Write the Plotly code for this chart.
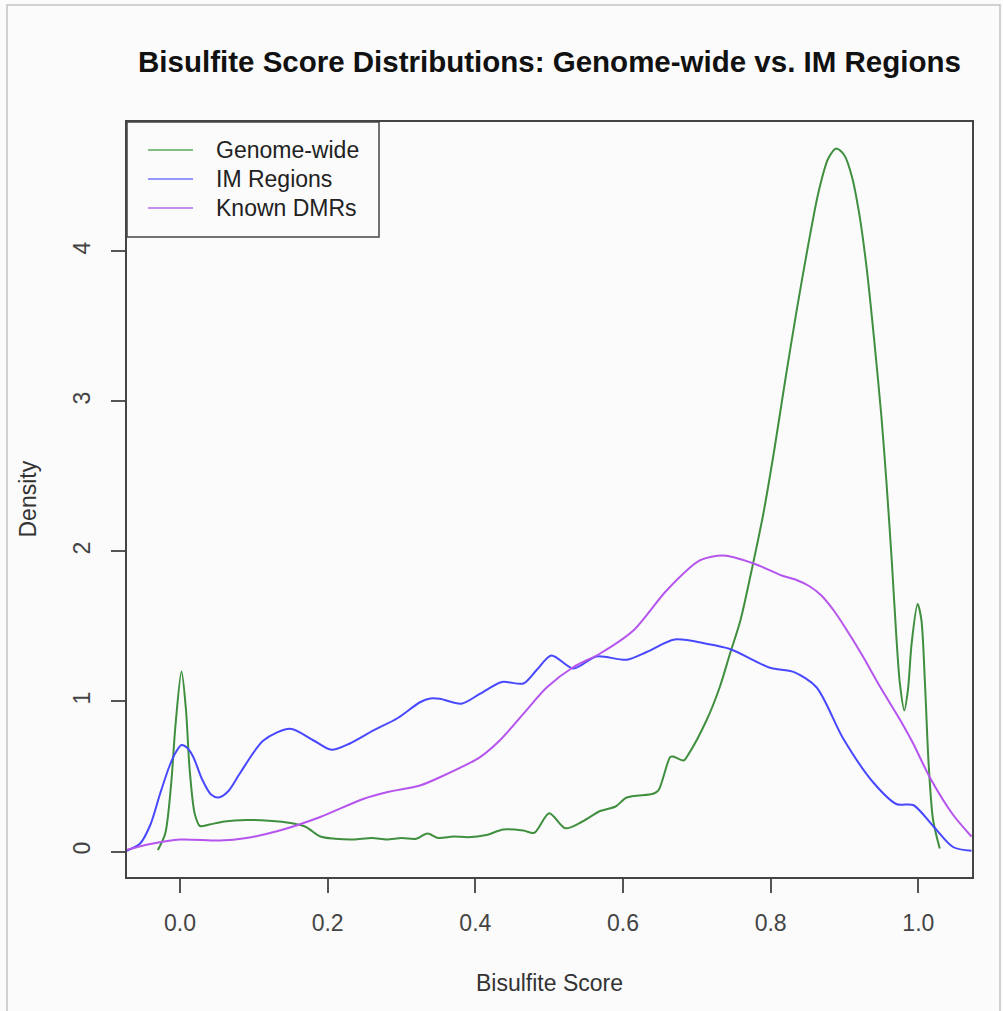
import plotly.graph_objects as go

# Density estimates of the bisulfite score, read as (score, density) pairs
genome_x = [-0.030, -0.020, -0.012, -0.006, 0.002, 0.008, 0.013, 0.020, 0.027, 0.040,
            0.060, 0.090, 0.120, 0.150, 0.170, 0.190, 0.210, 0.235, 0.260, 0.280,
            0.300, 0.320, 0.335, 0.350, 0.370, 0.390, 0.415, 0.438, 0.465, 0.480,
            0.500, 0.522, 0.545, 0.569, 0.590, 0.605, 0.641, 0.648, 0.664, 0.668,
            0.682, 0.689, 0.713, 0.731, 0.745, 0.759, 0.774, 0.790, 0.805, 0.820,
            0.835, 0.850, 0.865, 0.878, 0.889, 0.900, 0.910, 0.920, 0.930, 0.940,
            0.950, 0.957, 0.964, 0.970, 0.975, 0.981, 0.986, 0.991, 0.999, 1.004,
            1.009, 1.014, 1.020, 1.029]
genome_y = [0.01, 0.12, 0.45, 0.85, 1.20, 0.95, 0.55, 0.25, 0.17, 0.18,
            0.20, 0.21, 0.205, 0.19, 0.165, 0.10, 0.085, 0.08, 0.09, 0.08,
            0.09, 0.085, 0.12, 0.09, 0.10, 0.095, 0.11, 0.147, 0.14, 0.125,
            0.255, 0.155, 0.20, 0.27, 0.30, 0.36, 0.385, 0.407, 0.63, 0.633,
            0.607, 0.651, 0.873, 1.095, 1.32, 1.54, 1.87, 2.25, 2.68, 3.15,
            3.60, 4.02, 4.40, 4.62, 4.687, 4.64, 4.50, 4.25, 3.89, 3.42,
            2.90, 2.45, 1.94, 1.45, 1.12, 0.94, 1.08, 1.39, 1.65, 1.55,
            1.12, 0.58, 0.21, 0.02]

im_x = [-0.072, -0.054, -0.040, -0.027, -0.015, -0.007, 0.002, 0.010, 0.018, 0.030,
        0.042, 0.052, 0.065, 0.081, 0.113, 0.149, 0.181, 0.205, 0.230, 0.262,
        0.295, 0.325, 0.339, 0.352, 0.381, 0.406, 0.436, 0.465, 0.483, 0.503,
        0.533, 0.564, 0.605, 0.632, 0.670, 0.713, 0.745, 0.799, 0.831, 0.862,
        0.898, 0.939, 0.971, 0.993, 1.020, 1.047, 1.072]
im_y = [0.005, 0.053, 0.18, 0.385, 0.56, 0.65, 0.71, 0.69, 0.63, 0.48,
        0.38, 0.36, 0.40, 0.52, 0.74, 0.818, 0.74, 0.678, 0.72, 0.807,
        0.89, 0.995, 1.02, 1.018, 0.985, 1.05, 1.13, 1.12, 1.21, 1.307,
        1.22, 1.30, 1.278, 1.33, 1.413, 1.385, 1.35, 1.225, 1.197, 1.095,
        0.755, 0.46, 0.315, 0.31, 0.17, 0.03, 0.005]

dmr_x = [-0.072, -0.040, 0.000, 0.054, 0.090, 0.135, 0.190, 0.248, 0.280, 0.325,
         0.352, 0.406, 0.433, 0.465, 0.497, 0.533, 0.569, 0.614, 0.659, 0.704,
         0.736, 0.777, 0.815, 0.835, 0.852, 0.868, 0.885, 0.900, 0.925, 0.948,
         0.975, 0.993, 1.016, 1.047, 1.072]
dmr_y = [0.011, 0.05, 0.08, 0.073, 0.09, 0.14, 0.23, 0.35, 0.395, 0.44,
         0.495, 0.628, 0.74, 0.918, 1.095, 1.23, 1.32, 1.473, 1.74, 1.94,
         1.973, 1.92, 1.84, 1.81, 1.77, 1.71, 1.61, 1.50, 1.30, 1.10,
         0.88, 0.72, 0.49, 0.245, 0.10]

series_names = ["Genome-wide", "IM Regions", "Known DMRs"]
series_colors = ["#3f8f3f", "#4848ff", "#b655ee"]
legend_colors = ["#5aaa5a", "#7474ff", "#b868e6"]

x_ticks = [0.0, 0.2, 0.4, 0.6, 0.8, 1.0]
x_tick_text = ["0.0", "0.2", "0.4", "0.6", "0.8", "1.0"]
y_ticks = [0, 1, 2, 3, 4]
y_tick_text = ["0", "1", "2", "3", "4"]

FONT = "Liberation Sans, Arial, Helvetica, sans-serif"
W, H = 1003, 1011
L, R, T, B = 127, 972, 122, 877   # plot box in pixels


def px(xp):
    return (xp - L) / (R - L)


def py(yp):
    return (B - yp) / (B - T)


fig = go.Figure()
for xs, ys, name, col in zip([genome_x, im_x, dmr_x], [genome_y, im_y, dmr_y],
                             series_names, series_colors):
    fig.add_trace(go.Scatter(x=xs, y=ys, mode="lines", name=name,
                             line=dict(color=col, width=2, shape="spline", smoothing=0.8),
                             showlegend=False))

shapes = []
annotations = []

# outer frame of the figure
shapes.append(dict(type="rect", xref="paper", yref="paper",
                   x0=px(7), x1=px(1000), y0=py(1012), y1=py(5),
                   line=dict(color="#c4c4c4", width=1.5), fillcolor="rgba(0,0,0,0)",
                   layer="below"))

# legend box with line samples
shapes.append(dict(type="rect", xref="paper", yref="paper",
                   x0=px(127), x1=px(379), y0=py(237), y1=py(122),
                   line=dict(color="#444444", width=1.5), fillcolor="rgba(0,0,0,0)"))
for i, (name, col) in enumerate(zip(series_names, legend_colors)):
    yy = 150 + 29 * i
    shapes.append(dict(type="line", xref="paper", yref="paper",
                       x0=px(148), x1=px(193), y0=py(yy), y1=py(yy),
                       line=dict(color=col, width=1.6)))
    annotations.append(dict(text=name, xref="paper", yref="paper", x=px(214), y=py(yy),
                            xanchor="left", yanchor="middle", showarrow=False,
                            font=dict(family=FONT, size=23, color="#222222")))

# axis titles
annotations.append(dict(text="Bisulfite Score", xref="paper", yref="paper",
                        x=px((L + R) / 2), y=py(983), xanchor="center", yanchor="middle",
                        showarrow=False, font=dict(family=FONT, size=23, color="#333333")))
annotations.append(dict(text="Density", xref="paper", yref="paper",
                        x=px(27), y=py((T + B) / 2), xanchor="center", yanchor="middle",
                        textangle=-90, showarrow=False,
                        font=dict(family=FONT, size=23, color="#333333")))

fig.update_layout(
    width=W, height=H,
    margin=dict(l=L, r=W - R, t=T, b=H - B),
    paper_bgcolor="#fbfbfb", plot_bgcolor="#fbfbfb",
    font=dict(family=FONT, size=23, color="#333333"),
    title=dict(text="<b>Bisulfite Score Distributions: Genome-wide vs. IM Regions</b>",
               x=0.5, xref="paper", xanchor="center",
               y=1 - 62 / H, yref="container", yanchor="middle",
               font=dict(family=FONT, size=29.5, color="#111111")),
    shapes=shapes, annotations=annotations,
    showlegend=False,
)

fig.update_xaxes(range=[-0.0718, 1.0727], tickvals=x_ticks, ticktext=x_tick_text,
                 showgrid=False, zeroline=False, showline=True, mirror=True,
                 linecolor="#444444", linewidth=1.5,
                 ticks="outside", ticklen=14, tickwidth=1.5, tickcolor="#555555",
                 tickfont=dict(family=FONT, size=23, color="#444444"),
                 ticklabelstandoff=11)
fig.update_yaxes(range=[-0.17, 4.863], tickvals=y_ticks, ticktext=y_tick_text,
                 showgrid=False, zeroline=False, showline=True, mirror=True,
                 linecolor="#444444", linewidth=1.5,
                 ticks="outside", ticklen=14, tickwidth=1.5, tickcolor="#555555",
                 tickangle=-90,
                 tickfont=dict(family=FONT, size=23, color="#444444"),
                 ticklabelstandoff=12)

fig.write_html("out.html")
